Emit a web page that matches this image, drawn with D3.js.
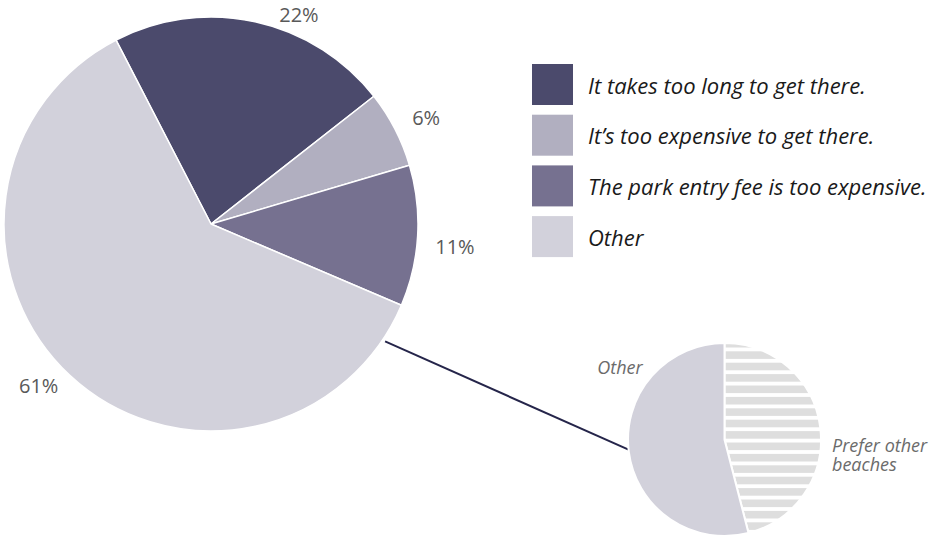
<!DOCTYPE html>
<html>
<head>
<meta charset="utf-8">
<script src="https://cdn.jsdelivr.net/npm/d3@7"></script>
<style>
  html, body { margin: 0; padding: 0; background: #fff; }
  svg { display: block; }
  text { font-family: "Open Sans", "Noto Sans", sans-serif; }
</style>
</head>
<body>
<svg id="chart" width="933" height="537"></svg>
<script>
// ---- data ----
const categories = [
  "It takes too long to get there.",
  "It\u2019s too expensive to get there.",
  "The park entry fee is too expensive.",
  "Other"
];
const values = [22, 6, 11, 61];
const valueLabels = ["22%", "6%", "11%", "61%"];
const colors = ["#4b4a6c", "#b1afc0", "#767190", "#d2d1db"];

const breakdownCategories = ["Prefer other beaches", "Other"];
const breakdownValues = [46, 54];

// ---- layout ----
const svg = d3.select("#chart");
const main = { cx: 211, cy: 224, r: 207 };
const small = { cx: 724.5, cy: 439.5, r: 96.5 };
const deg = Math.PI / 180;
const startMain = -27.3 * deg;

// pattern for hatched slice
const defs = svg.append("defs");
const pat = defs.append("pattern")
  .attr("id", "stripes")
  .attr("patternUnits", "userSpaceOnUse")
  .attr("x", 0).attr("y", small.cy - small.r + 2)
  .attr("width", 20).attr("height", 11.4);
pat.append("rect").attr("width", 20).attr("height", 11.4).attr("fill", "#ffffff");
pat.append("rect").attr("y", 0).attr("width", 20).attr("height", 7.6).attr("fill", "#dedede");

// ---- main pie ----
const pie = d3.pie().sort(null).value(d => d)
  .startAngle(startMain).endAngle(startMain + 2 * Math.PI);
const arcs = pie(values);
const arc = d3.arc().innerRadius(0).outerRadius(main.r);

const gMain = svg.append("g").attr("transform", `translate(${main.cx},${main.cy})`);
gMain.selectAll("path.slice").data(arcs).enter().append("path")
  .attr("class", "slice")
  .attr("d", arc)
  .attr("fill", (d, i) => colors[i])
  .attr("stroke", "#ffffff")
  .attr("stroke-width", 1.5)
  .attr("stroke-linejoin", "round");

// labels
const labelNudge = [10.5 * deg, 1 * deg, 2 * deg, 4 * deg];
const labelDist = [227, 240, 245, 236];
gMain.selectAll("text.val").data(arcs).enter().append("text")
  .attr("class", "val")
  .attr("x", (d, i) => Math.sin((d.startAngle + d.endAngle) / 2 + labelNudge[i]) * labelDist[i])
  .attr("y", (d, i) => -Math.cos((d.startAngle + d.endAngle) / 2 + labelNudge[i]) * labelDist[i])
  .attr("text-anchor", "middle")
  .attr("dominant-baseline", "central")
  .attr("font-size", 20)
  .attr("fill", "#595959")
  .text((d, i) => valueLabels[i]);

// ---- connector line ----
const a1 = 124 * deg;
const x1 = main.cx + Math.sin(a1) * (main.r + 3);
const y1 = main.cy - Math.cos(a1) * (main.r + 3);
const a2 = 264 * deg;
const x2 = small.cx + Math.sin(a2) * small.r;
const y2 = small.cy - Math.cos(a2) * small.r;
svg.append("line")
  .attr("x1", x1).attr("y1", y1).attr("x2", x2).attr("y2", y2)
  .attr("stroke", "#25254a").attr("stroke-width", 2);

// ---- breakdown pie ----
const pie2 = d3.pie().sort(null).value(d => d);
const arcs2 = pie2(breakdownValues);
const arc2 = d3.arc().innerRadius(0).outerRadius(small.r);
const gSmall = svg.append("g").attr("transform", `translate(${small.cx},${small.cy})`);
gSmall.selectAll("path").data(arcs2).enter().append("path")
  .attr("d", arc2)
  .attr("fill", (d, i) => i === 0 ? "url(#stripes)" : colors[3])
  .attr("stroke", "#ffffff")
  .attr("stroke-width", 2);

// breakdown labels
svg.append("text")
  .attr("x", 620).attr("y", 374)
  .attr("text-anchor", "middle")
  .attr("font-size", 18).attr("font-style", "italic")
  .attr("fill", "#6b6b6b")
  .text(breakdownCategories[1]);
const pl = svg.append("text")
  .attr("x", 832).attr("y", 452)
  .attr("font-size", 18).attr("font-style", "italic")
  .attr("fill", "#6b6b6b");
const words = breakdownCategories[0].split(" ");
pl.append("tspan").attr("x", 832).attr("dy", 0).text(words.slice(0, 2).join(" "));
pl.append("tspan").attr("x", 832).attr("dy", 19).text(words.slice(2).join(" "));

// ---- legend ----
const legend = svg.append("g").attr("transform", "translate(532,64)");
const li = legend.selectAll("g").data(categories).enter().append("g")
  .attr("transform", (d, i) => `translate(0,${i * 50.7})`);
li.append("rect").attr("width", 41).attr("height", 41)
  .attr("fill", (d, i) => colors[i]);
li.append("text")
  .attr("x", 56).attr("y", 20.5)
  .attr("dominant-baseline", "central")
  .attr("font-size", 22).attr("font-style", "italic")
  .attr("fill", "#1a1a1a")
  .text(d => d);
</script>
</body>
</html>
